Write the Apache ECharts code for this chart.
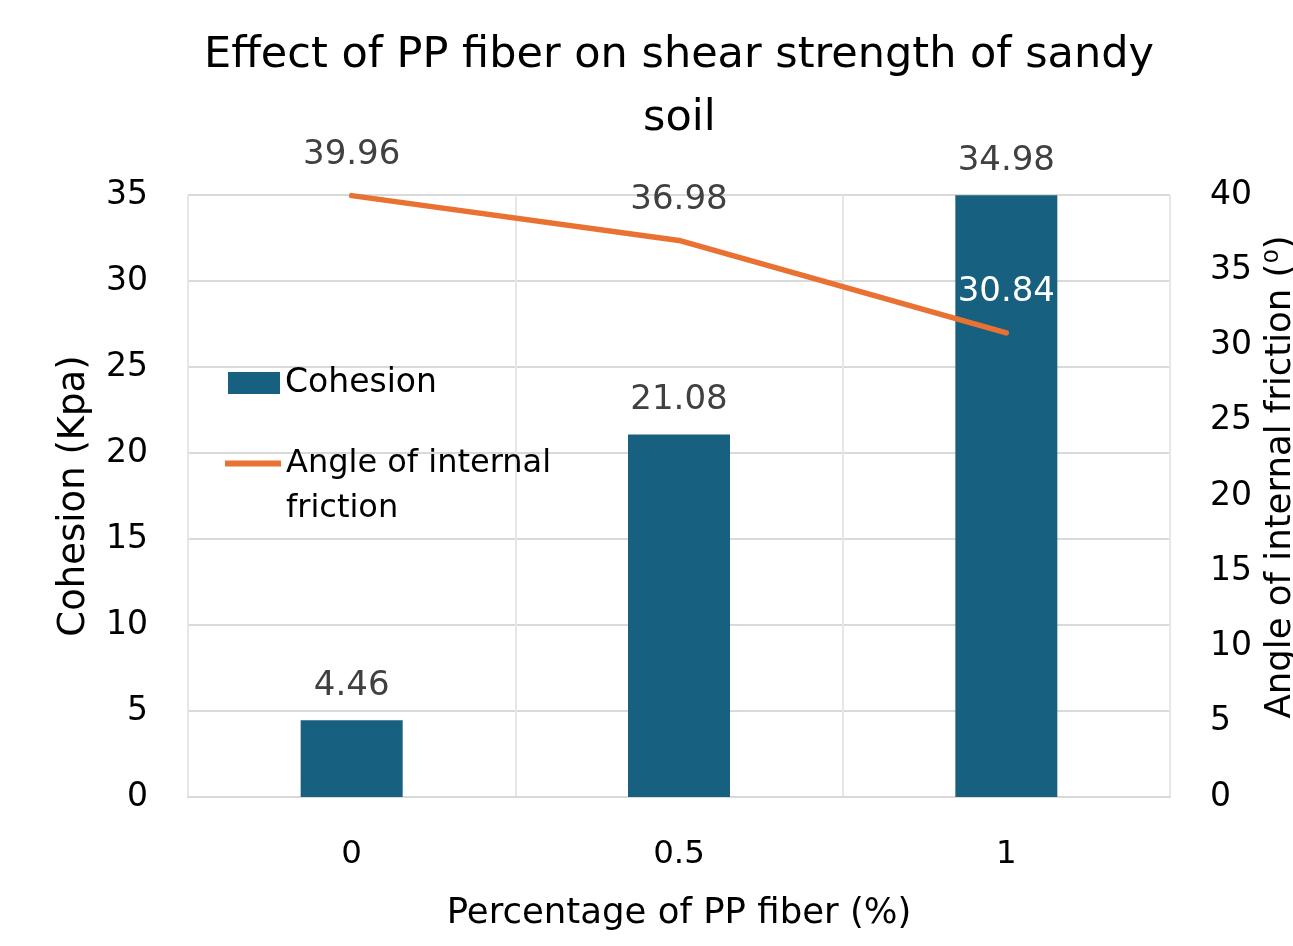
<!DOCTYPE html>
<html>
<head>
<meta charset="utf-8">
<script src="https://cdn.jsdelivr.net/npm/echarts@6/dist/echarts.min.js"></script>
<style>
html,body{margin:0;padding:0;background:#fff;}
#chart{width:1293px;height:946px;}
</style>
</head>
<body>
<div id="chart"></div>
<script>
const categories = ['0', '0.5', '1'];
const cohesion = [4.46, 21.08, 34.98];
const friction = [39.96, 36.98, 30.84];
const frictionLabelColors = ['#404040', '#404040', '#ffffff'];
const titleLines = ['Effect of PP fiber on shear strength of sandy', 'soil'];

const FONT = '"DejaVu Sans", sans-serif';
const TITLE_SIZE = 43;
// center each title line over the plot area (x = 679)
const mc = document.createElement('canvas').getContext('2d');
mc.font = TITLE_SIZE + 'px "DejaVu Sans"';
const titleLeft = (t) => Math.round(679 - mc.measureText(t).width / 2) - 5;

const chart = echarts.init(document.getElementById('chart'));
const option = {
  backgroundColor: '#ffffff',
  animation: false,
  textStyle: { fontFamily: FONT },
  title: titleLines.map((t, i) => ({
    text: t,
    left: titleLeft(t),
    top: 19 + i * 63,
    textStyle: { fontSize: TITLE_SIZE, fontWeight: 'normal', color: '#000000', lineHeight: 63, fontFamily: FONT }
  })),
  legend: [
    {
      data: [{ name: 'Cohesion', icon: 'rect' }],
      left: 223, top: 358,
      itemWidth: 52, itemHeight: 22,
      textStyle: { fontSize: 33, color: '#000000', lineHeight: 40, fontFamily: FONT }
    },
    {
      data: [{ name: 'Angle of internal\nfriction', icon: 'rect' }],
      formatter: (n) => '\u00a0\n' + n,
      left: 220, top: 391,
      itemWidth: 56, itemHeight: 6,
      itemStyle: { borderWidth: 0 },
      textStyle: { fontSize: 32, color: '#000000', lineHeight: 45, fontFamily: FONT }
    }
  ],
  grid: { left: 188, right: 123, top: 195, bottom: 149, outerBoundsMode: 'none', containLabel: false },
  xAxis: {
    type: 'category',
    data: categories,
    name: 'Percentage of PP fiber (%)',
    nameLocation: 'middle',
    nameGap: 99,
    nameTextStyle: { fontSize: 35.5, color: '#000000', fontFamily: FONT },
    axisLine: { lineStyle: { color: '#d9d9d9', width: 2 } },
    axisTick: { show: false },
    axisLabel: { fontSize: 32.5, color: '#000000', margin: 41, fontFamily: FONT },
    splitLine: { show: true, lineStyle: { color: '#e6e6e6', width: 2 } }
  },
  yAxis: [
    {
      type: 'value', min: 0, max: 35, interval: 5,
      name: 'Cohesion (Kpa)',
      nameLocation: 'middle', nameGap: 95,
      nameTextStyle: { fontSize: 37, color: '#000000', fontFamily: FONT },
      axisLine: { show: false }, axisTick: { show: false },
      axisLabel: { fontSize: 33, color: '#000000', margin: 40, fontFamily: FONT },
      splitLine: { show: true, lineStyle: { color: '#d9d9d9', width: 2 } }
    },
    {
      type: 'value', min: 0, max: 40, interval: 5,
      name: 'Angle of internal friction (⁰)',
      nameLocation: 'middle', nameGap: 90, nameRotate: 90,
      nameTextStyle: { fontSize: 35.5, color: '#000000', fontFamily: FONT, padding: [0, 0, 0, 38] },
      axisLine: { show: false }, axisTick: { show: false },
      axisLabel: { fontSize: 33, color: '#000000', margin: 40, fontFamily: FONT },
      splitLine: { show: false }
    }
  ],
  series: [
    {
      name: 'Cohesion',
      type: 'bar',
      data: cohesion,
      barWidth: 102,
      itemStyle: { color: '#17607F' },
      label: { show: true, position: 'top', distance: 17, fontSize: 34, color: '#404040', fontFamily: FONT },
      z: 2
    },
    {
      name: 'Angle of internal\nfriction',
      type: 'line',
      yAxisIndex: 1,
      data: friction.map((v, i) => ({ value: v, label: { color: frictionLabelColors[i] } })),
      symbol: 'circle',
      symbolSize: 1,
      showSymbol: true,
      lineStyle: { color: '#E97132', width: 5.5, cap: 'round' },
      itemStyle: { color: '#E97132' },
      label: { show: true, position: 'top', distance: 23, fontSize: 34, color: '#404040', fontFamily: FONT },
      z: 3
    }
  ]
};
chart.setOption(option);
</script>
</body>
</html>
